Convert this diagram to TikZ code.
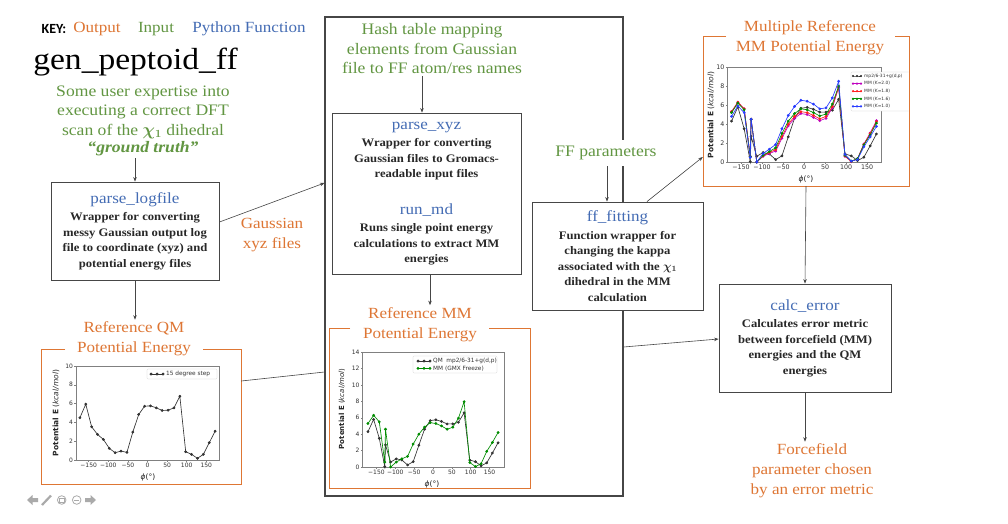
\documentclass[tikz,border=0pt]{standalone}
\usepackage{fontspec}
\setmainfont{Liberation Serif}[FakeStretch=1.1]
\newfontfamily\keyfont{Carlito}
\newfontfamily\pfont{DejaVu Sans}
\usetikzlibrary{arrows.meta,calc}
\definecolor{cOut}{RGB}{222,118,52}
\definecolor{cIn}{RGB}{98,150,66}
\definecolor{cFn}{RGB}{68,108,180}
\definecolor{cLine}{RGB}{70,70,70}
\definecolor{cBody}{RGB}{40,40,40}
\definecolor{cMag}{RGB}{191,0,191}
\definecolor{cGrn}{RGB}{0,140,0}
\definecolor{cBlu}{RGB}{40,60,255}
\definecolor{cRed}{RGB}{255,30,30}
\definecolor{cIcon}{RGB}{170,170,170}
\newcommand\fsBody{\fontsize{11.5}{15.5}\selectfont\bfseries}
\newcommand\fsFn{\fontsize{15.5}{15.5}\selectfont\mdseries\color{cFn}}
\newcommand\fsIn{\fontsize{16}{19.5}\selectfont}
\newcommand\fsOut{\fontsize{15.5}{20}\selectfont}
\begin{document}
\begin{tikzpicture}[x=1pt,y=-1pt,
  fbox/.style={draw=cLine, line width=0.9pt, fill=white, align=center, font=\fsBody, text=cBody, inner sep=0pt},
  arr/.style={draw=cLine, line width=0.6pt, -{Stealth[length=4.5pt,width=3.5pt]}},
  conn/.style={draw=cLine, line width=0.6pt},
  intext/.style={text=cIn, align=center, font=\fsIn, inner sep=2pt},
  outtext/.style={text=cOut, align=center, font=\fsOut, inner sep=2pt},
  panel/.style={inner sep=0pt},
  pframe/.style={draw=cOut, line width=1pt},
  axf/.style={draw=black!50, line width=0.45pt},
  tick/.style={font=\pfont\fontsize{6}{6}\selectfont, text=black!80, inner sep=1pt},
  tickb/.style={font=\pfont\fontsize{6.3}{6.3}\selectfont, text=black!80, inner sep=1pt},
  alabel/.style={font=\pfont\fontsize{7.5}{7.5}\selectfont, text=black!85, inner sep=0pt},
  lgd/.style={font=\pfont\fontsize{5.8}{5.8}\selectfont, text=black!80, inner sep=0pt, anchor=west},
  lgdbox/.style={draw=black!20, line width=0.3pt, fill=white, rounded corners=1pt},
  blk/.style={color=black!80, line width=0.65pt, mark=*, mark size=1.05pt},
  mag/.style={color=cMag, line width=0.65pt, mark=*, mark size=1.05pt},
  red/.style={color=cRed, line width=0.65pt, mark=*, mark size=1.05pt},
  grn/.style={color=cGrn, line width=0.65pt, mark=*, mark size=1.05pt},
  blu/.style={color=cBlu, line width=0.65pt, mark=*, mark size=1.05pt}]
\useasboundingbox (0,0) rectangle (1008,523);
\fill[white] (0,0) rectangle (1008,523);

% ---------------- key and heading ----------------
\node[font=\keyfont\bfseries\fontsize{14}{14}\selectfont, inner sep=0pt] (key) at (54,29) {KEY:};
\node[text=cOut, font=\fsOut, inner sep=0pt] (kout) at (97,29) {Output};
\node[text=cIn, font=\fsOut, inner sep=0pt] (kin) at (156,29) {Input};
\node[text=cFn, font=\fsOut, inner sep=0pt] (kfn) at (249,29) {Python Function};
\node[font=\fontsize{30.5}{30.5}\selectfont, inner sep=0pt, anchor=base] (gen) at (135.5,69) {gen\_peptoid\_ff};

\node[intext] (intro) at (143,121) {Some user expertise into\\executing a correct DFT\\scan of the {\boldmath$\chi_1$} dihedral\\[-2pt]\textbf{\textit{``ground truth''}}};

% ---------------- big frame ----------------
\node[draw=cLine, line width=1.1pt, minimum width=298pt, minimum height=479pt, inner sep=0pt] (frame) at (474,256.5) {};

% ---------------- boxes ----------------
\node[fbox, minimum width=168pt, minimum height=98pt] (plog) at (135,231)
  {{\fsFn parse\_logfile}\\[2pt]Wrapper for converting\\messy Gaussian output log\\file to coordinate (xyz) and\\potential energy files};

\node[outtext] (gxyz) at (272,235) {Gaussian\\xyz files};

\node[intext] (hash) at (432,49) {Hash table mapping\\elements from Gaussian\\file to FF atom/res names};

\node[fbox, minimum width=189pt, minimum height=161pt] (pxyz) at (426.5,193.5)
  {{\fsFn parse\_xyz}\\[2pt]Wrapper for converting\\Gaussian files to Gromacs-\\readable input files\\[21.5pt]{\fsFn run\_md}\\[1.5pt]Runs single point energy\\calculations to extract MM\\energies};

\node[intext, fill=white, inner ysep=6pt] (ffp) at (606,153) {FF parameters};

\node[fbox, minimum width=171pt, minimum height=108pt] (fff) at (617.5,256)
  {{\fsFn ff\_fitting}\\[2pt]Function wrapper for\\changing the kappa\\associated with the {\boldmath$\chi_1$}\\dihedral in the MM\\calculation};

\node[fbox, minimum width=172pt, minimum height=108pt] (calc) at (805,338)
  {{\fsFn calc\_error}\\[2pt]Calculates error metric\\between forcefield (MM)\\energies and the QM\\energies};

\node[outtext] (final) at (812,471) {Forcefield\\parameter chosen\\by an error metric};

% ---------------- panels ----------------
\node[panel, minimum width=200pt, minimum height=135pt] (qmp) at (141,416.5) {};
\node[panel, minimum width=201pt, minimum height=160pt] (mmp) at (429.5,408) {};
\node[panel, minimum width=206pt, minimum height=150pt] (trp) at (806,111) {};
\draw[pframe] (65,349) -- (41,349) -- (41,484) -- (241,484) -- (241,349) -- (203,349);
\draw[pframe] (350,328) -- (329,328) -- (329,488) -- (530,488) -- (530,328) -- (489,328);
\draw[pframe] (726,36) -- (703,36) -- (703,186) -- (909,186) -- (909,36) -- (895,36);
\node[outtext] (qmt) at (134,339) {Reference QM\\Potential Energy};
\node[outtext] (mmt) at (420,324.5) {Reference MM\\Potential Energy};
\node[outtext] (trt) at (810,38) {Multiple Reference\\MM Potential Energy};

% ---------------- connectors ----------------
\draw[arr] (plog.north |- intro.south) -- (plog.north);
\draw[arr] ([yshift=9pt]plog.east) -- ([yshift=73.5pt]frame.west);
\draw[arr] (plog.south) -- (plog.south |- qmt.north);
\draw[conn] ([yshift=35.5pt]qmp.east) -- ([yshift=-115.5pt]frame.west);
\draw[arr] ([xshift=-4.5pt]pxyz.north |- hash.south) -- ([xshift=-4.5pt]pxyz.north);
\draw[arr] ([xshift=3.5pt]pxyz.south) -- ([xshift=3.5pt]pxyz.south |- mmt.north);
\draw[arr] ([xshift=-10.5pt]fff.north |- ffp.south) -- ([xshift=-10.5pt]fff.north);
\draw[arr] ([xshift=29.5pt]fff.north) -- ([yshift=-46pt]trp.west);
\draw[arr] (trp.south) -- (calc.north);
\draw[arr] ([yshift=-90.5pt]frame.east) -- ([yshift=-1pt]calc.west);
\draw[arr] (calc.south) -- (calc.south |- final.north);

% ---------------- QM plot ----------------
\begin{scope}[shift={(147.5,460)}, x=0.392pt, y=9.4pt]
  \draw[axf] (-183,0) rectangle (183,10);
  \foreach \t/\l in {-150/−150,-100/−100,-50/−50,0/0,50/50,100/100,150/150}
    \draw[axf] (\t,0) -- ++(0,-1.5pt) node[below=0pt, tick] {\l};
  \foreach \v in {0,2,...,10}
    \draw[axf] (-183,\v) -- ++(-1.5pt,0) node[left=0pt, tick] {\v};
  \draw[blk] plot coordinates {(-172.5,4.49) (-157.5,5.94) (-142.5,3.53) (-127.5,2.72) (-112.5,2.19) (-97.5,1.24) (-82.5,0.78) (-67.5,0.95) (-52.5,0.81) (-37.5,2.97) (-22.5,4.84) (-7.5,5.72) (7.5,5.76) (22.5,5.55) (37.5,5.27) (52.5,5.30) (67.5,5.55) (82.5,6.78) (97.5,0.88) (112.5,0.60) (127.5,0.18) (142.5,0.60) (157.5,1.84) (172.5,3.07)};
\end{scope}
\node[alabel, rotate=90] (qmyl) at (56,413) {\textbf{Potential E} (\textit{kcal/mol})};
\node[alabel] (qmxl) at (148,477) {\textit{ϕ}(°)};
\draw[lgdbox] (147,369) rectangle (217,379);
\draw[blk] plot coordinates {(151,374) (157,374) (163,374)};
\node[lgd] (qml1) at (166,374) {15 degree step};

% ---------------- MM plot ----------------
\begin{scope}[shift={(433,467)}, x=0.377pt, y=8.21pt]
  \draw[axf] (-188,0) rectangle (188,14);
  \foreach \t/\l in {-150/−150,-100/−100,-50/−50,0/0,50/50,100/100,150/150}
    \draw[axf] (\t,0) -- ++(0,-1.5pt) node[below=0pt, tick] {\l};
  \foreach \v in {0,2,...,14}
    \draw[axf] (-188,\v) -- ++(-1.5pt,0) node[left=0pt, tick] {\v};
  \draw[blk] plot coordinates {(-172.5,4.3) (-157.5,5.8) (-142.5,3.5) (-128,0.05) (-126,2.7) (-112.5,0.6) (-97.5,1.0) (-82.5,0.85) (-67.5,0.25) (-52.5,0.65) (-37.5,2.65) (-22.5,4.6) (-7.5,5.65) (7.5,5.75) (22.5,5.55) (37.5,5.25) (52.5,5.25) (67.5,5.45) (82.5,6.6) (97.5,0.85) (112.5,0.65) (127.5,0.15) (142.5,0.5) (157.5,1.7) (172.5,2.95)};
  \draw[grn] plot coordinates {(-172.5,5.3) (-157.5,6.3) (-142.5,5.5) (-128,0.6) (-126,4.6) (-112.5,0.0) (-97.5,0.6) (-82.5,1.0) (-67.5,1.3) (-52.5,2.8) (-37.5,4.0) (-22.5,4.85) (-7.5,5.4) (7.5,5.3) (22.5,5.0) (37.5,4.6) (52.5,4.85) (67.5,5.95) (82.5,7.95) (97.5,0.55) (112.5,0.05) (127.5,0.4) (142.5,1.9) (157.5,3.0) (172.5,4.2)};
\end{scope}
\node[alabel, rotate=90, font=\pfont\fontsize{7}{7}\selectfont] (mmyl) at (342,409) {\textbf{Potential E} (\textit{kcal/mol})};
\node[alabel] (mmxl) at (432,484) {\textit{ϕ}(°)};
\draw[lgdbox] (413,356) rectangle (497,373);
\draw[blk] plot coordinates {(418,361) (424,361) (430,361)};
\draw[grn] plot coordinates {(418,368.3) (424,368.3) (430,368.3)};
\node[lgd] (mml1) at (433,361) {QM\ \ mp2/6-31+g(d,p)};
\node[lgd] (mml2) at (433,368.3) {MM (GMX Freeze)};

% ---------------- multiple reference plot ----------------
\begin{scope}[shift={(804,162)}, x=0.42pt, y=9.5pt]
  \draw[axf] (-183.3,0) rectangle (183.3,10);
  \foreach \t/\l in {-150/−150,-100/−100,-50/−50,0/0,50/50,100/100,150/150}
    \draw[axf] (\t,0) -- ++(0,-1.5pt) node[below=0pt, tickb] {\l};
  \foreach \v in {0,2,...,10}
    \draw[axf] (-183.3,\v) -- ++(-1.5pt,0) node[left=0pt, tickb] {\v};
  \draw[blk] plot coordinates {(-172.5,4.3) (-157.5,5.8) (-142.5,3.5) (-128,0.05) (-126,2.7) (-112.5,0.6) (-97.5,1.0) (-82.5,0.85) (-67.5,0.25) (-52.5,0.65) (-37.5,2.65) (-22.5,4.6) (-7.5,5.65) (7.5,5.75) (22.5,5.55) (37.5,5.25) (52.5,5.25) (67.5,5.45) (82.5,6.6) (97.5,0.85) (112.5,0.65) (127.5,0.15) (142.5,0.5) (157.5,1.7) (172.5,2.95)};
  \draw[mag] plot coordinates {(-172.5,5.3) (-157.5,6.3) (-142.5,5.6) (-128,0.6) (-126,4.5) (-112.5,0) (-97.5,0.6) (-82.5,0.9) (-67.5,1.15) (-52.5,2.5) (-37.5,3.8) (-22.5,4.6) (-7.5,5.1) (7.5,5.0) (22.5,4.7) (37.5,4.35) (52.5,4.6) (67.5,5.7) (82.5,7.85) (97.5,0.6) (112.5,0.05) (127.5,0.35) (142.5,1.9) (157.5,3.05) (172.5,4.35)};
  \draw[red] plot coordinates {(-172.5,5.3) (-157.5,6.3) (-142.5,5.6) (-128,0.6) (-126,4.5) (-112.5,0) (-97.5,0.65) (-82.5,1.0) (-67.5,1.3) (-52.5,2.7) (-37.5,4.0) (-22.5,4.8) (-7.5,5.3) (7.5,5.2) (22.5,4.9) (37.5,4.55) (52.5,4.8) (67.5,5.85) (82.5,7.9) (97.5,0.65) (112.5,0.05) (127.5,0.35) (142.5,1.85) (157.5,3.0) (172.5,4.25)};
  \draw[grn] plot coordinates {(-172.5,5.2) (-157.5,6.2) (-142.5,5.5) (-128,0.6) (-126,4.5) (-112.5,0) (-97.5,0.7) (-82.5,1.1) (-67.5,1.5) (-52.5,3.0) (-37.5,4.3) (-22.5,5.1) (-7.5,5.6) (7.5,5.5) (22.5,5.2) (37.5,4.85) (52.5,5.05) (67.5,6.1) (82.5,8.0) (97.5,0.7) (112.5,0.1) (127.5,0.35) (142.5,1.8) (157.5,2.85) (172.5,4.1)};
  \draw[blu] plot coordinates {(-172.5,4.8) (-157.5,5.9) (-142.5,5.2) (-128,0.5) (-126,4.5) (-112.5,0) (-97.5,0.9) (-82.5,1.35) (-67.5,1.85) (-52.5,3.5) (-37.5,4.9) (-22.5,5.85) (-7.5,6.5) (7.5,6.4) (22.5,6.1) (37.5,5.6) (52.5,5.7) (67.5,6.75) (82.5,8.5) (97.5,0.8) (112.5,0.1) (127.5,0.25) (142.5,1.6) (157.5,2.65) (172.5,3.75)};
\end{scope}
\node[alabel, rotate=90] (tryl) at (711,115) {\textbf{Potential E} (\textit{kcal/mol})};
\node[alabel] (trxl) at (806,179) {\textit{ϕ}(°)};
\begin{scope}
  \clip (840,60) rectangle (908.5,115);
  \draw[lgdbox] (851,72) rectangle (915,111);
  \draw[blk, mark size=0.75pt] plot coordinates {(853,76) (857,76) (861,76)};
  \draw[mag, mark size=0.75pt] plot coordinates {(853,83.6) (857,83.6) (861,83.6)};
  \draw[red, mark size=0.75pt] plot coordinates {(853,91.2) (857,91.2) (861,91.2)};
  \draw[grn, mark size=0.75pt] plot coordinates {(853,98.8) (857,98.8) (861,98.8)};
  \draw[blu, mark size=0.75pt] plot coordinates {(853,106.4) (857,106.4) (861,106.4)};
  \node[lgd, font=\pfont\fontsize{4.4}{4.4}\selectfont] (trl1) at (864,76) {mp2/6-31+g(d,p)};
  \node[lgd, font=\pfont\fontsize{4.4}{4.4}\selectfont] (trl2) at (864,83.6) {MM (K=2.0)};
  \node[lgd, font=\pfont\fontsize{4.4}{4.4}\selectfont] (trl3) at (864,91.2) {MM (K=1.8)};
  \node[lgd, font=\pfont\fontsize{4.4}{4.4}\selectfont] (trl4) at (864,98.8) {MM (K=1.6)};
  \node[lgd, font=\pfont\fontsize{4.4}{4.4}\selectfont] (trl5) at (864,106.4) {MM (K=1.0)};
\end{scope}

% ---------------- navigation icons ----------------
\fill[cIcon] (27,500) -- (32.5,495) -- (32.5,498) -- (38,498) -- (38,502) -- (32.5,502) -- (32.5,505) -- cycle;
\draw[cIcon, line width=2.2pt] (42,505) -- (51,495.5);
\draw[cIcon, line width=0.8pt] (61.7,500) circle[radius=4.3];
\draw[cIcon, line width=0.6pt] (59.5,498) rectangle (64,502);
\draw[cIcon, line width=0.8pt] (76.7,500) circle[radius=4.3];
\draw[cIcon, line width=0.8pt] (74,500) -- (79.4,500);
\fill[cIcon] (96,500) -- (90.5,495) -- (90.5,498) -- (85,498) -- (85,502) -- (90.5,502) -- (90.5,505) -- cycle;
\end{tikzpicture}
\end{document}
